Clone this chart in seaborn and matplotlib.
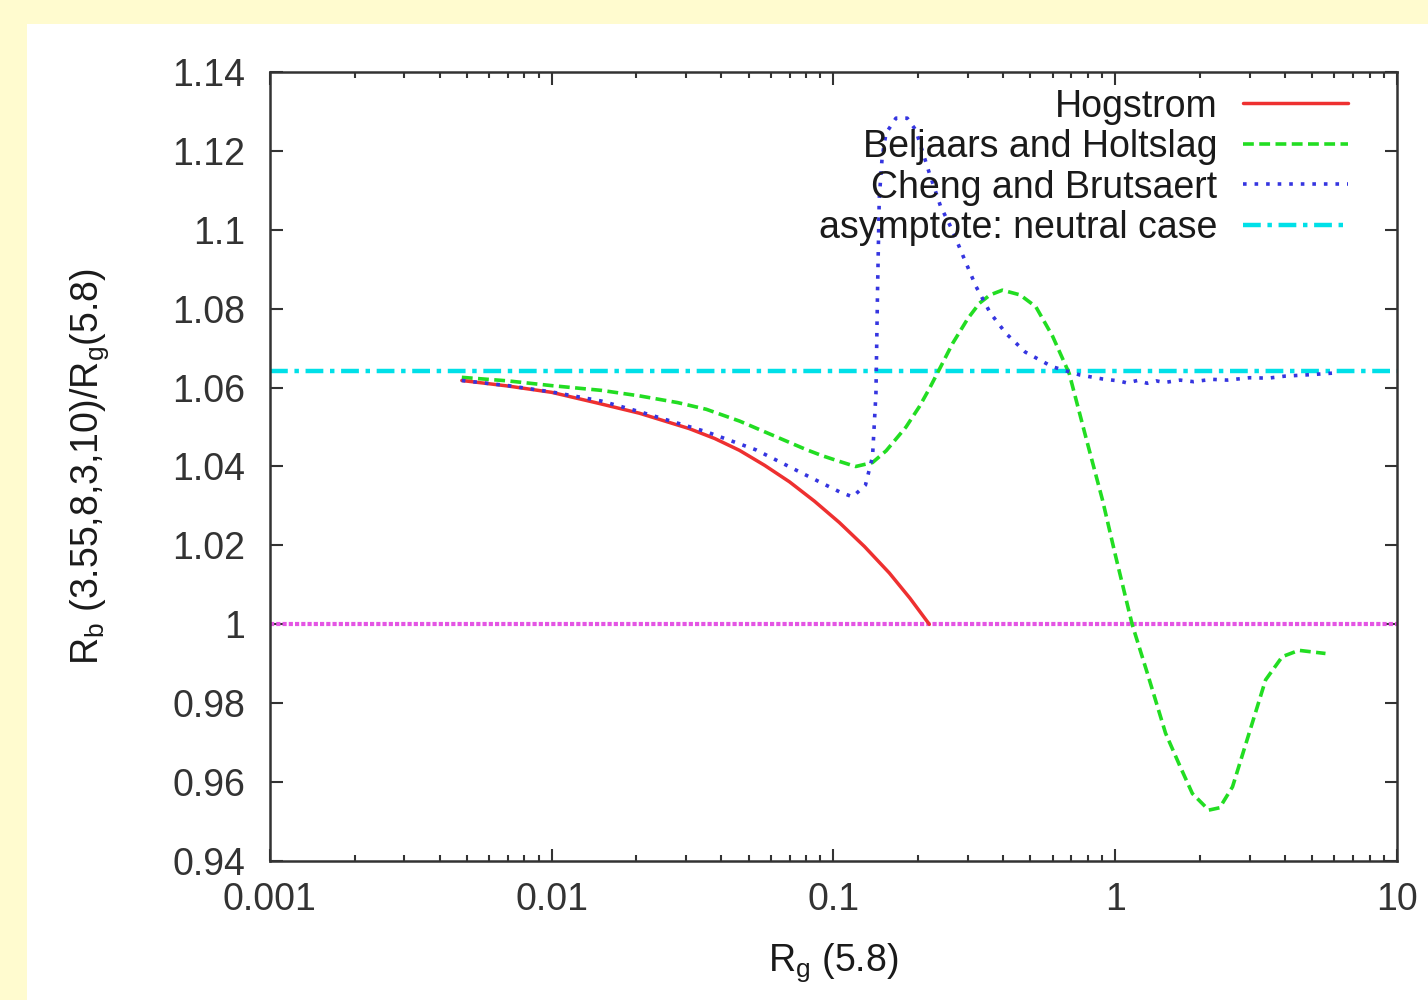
import numpy as np
import pandas as pd
import matplotlib
matplotlib.use("Agg")
import matplotlib.pyplot as plt
import seaborn as sns
from matplotlib.patches import Rectangle
from matplotlib.ticker import FixedLocator, FuncFormatter, LogLocator, NullFormatter

# ── values ──────────────────────────────────────────────────────────────────
hog_x = [0.0048, 0.007, 0.01, 0.0145, 0.0205, 0.0308, 0.0379, 0.0464, 0.057,
         0.0699, 0.0857, 0.105, 0.129, 0.158, 0.187, 0.219]
hog_y = [1.0618, 1.0604, 1.0588, 1.0561, 1.0535, 1.0496, 1.0471, 1.0441,
         1.0403, 1.0361, 1.0312, 1.0258, 1.0197, 1.013, 1.0066, 1.0]

bh_x = [0.0048, 0.007, 0.01, 0.015, 0.0205, 0.028, 0.0354, 0.0465, 0.061,
        0.08, 0.0916, 0.105, 0.12, 0.1377, 0.154, 0.181, 0.202, 0.219, 0.24,
        0.265, 0.3, 0.33, 0.36, 0.398, 0.46, 0.523, 0.6, 0.687, 0.79, 0.902,
        1.0, 1.149, 1.3, 1.51, 1.7, 1.88, 2.15, 2.35, 2.61, 2.99, 3.42, 3.92,
        4.49, 5.0, 5.58]
bh_y = [1.0626, 1.0617, 1.0605, 1.0593, 1.0579, 1.0562, 1.0545, 1.0515,
        1.0479, 1.0443, 1.0427, 1.0413, 1.04, 1.041, 1.044, 1.05, 1.0552,
        1.0597, 1.0652, 1.0712, 1.0775, 1.0814, 1.0835, 1.0847, 1.0835,
        1.0805, 1.073, 1.0636, 1.047, 1.0315, 1.0178, 1.0, 0.9877, 0.9724,
        0.964, 0.9571, 0.9529, 0.9535, 0.9588, 0.9724, 0.9859, 0.9918,
        0.9934, 0.993, 0.9926]

cb_x = [0.0048, 0.007, 0.01, 0.015, 0.0205, 0.0354, 0.0532, 0.08, 0.105,
        0.117, 0.13, 0.1377, 0.1416, 0.1435, 0.1455, 0.149, 0.1538, 0.1668,
        0.1828, 0.196, 0.219, 0.24, 0.264, 0.29, 0.321, 0.36, 0.409, 0.48,
        0.598, 0.75, 0.9, 1.03, 1.1, 1.2, 1.3, 1.4, 1.5, 1.7, 1.9, 2.2, 2.5,
        3.0, 3.5, 4.0, 5.0, 6.0]
cb_y = [1.0618, 1.0605, 1.0589, 1.0566, 1.0539, 1.0488, 1.0442, 1.0378,
        1.0336, 1.0323, 1.0353, 1.0425, 1.0585, 1.085, 1.108, 1.1185, 1.1245,
        1.1283, 1.1283, 1.1253, 1.1144, 1.106, 1.10, 1.093, 1.0856, 1.079,
        1.0738, 1.069, 1.0653, 1.0632, 1.0622, 1.0617, 1.0612, 1.0618,
        1.0611, 1.0617, 1.0613, 1.0619, 1.0615, 1.0621, 1.0619, 1.0625,
        1.0624, 1.0629, 1.0633, 1.0637]

asymptote = 1.0642
reference = 1.0

x_ticks = [0.001, 0.01, 0.1, 1, 10]
y_ticks = [0.94, 0.96, 0.98, 1.0, 1.02, 1.04, 1.06, 1.08, 1.1, 1.12, 1.14]
labels = ["Hogstrom", "Beljaars and Holtslag", "Cheng and Brutsaert",
          "asymptote: neutral case"]

# ── style ──────────────────────────────────────────────────────────────────
sns.set_theme(style="ticks")
plt.rcParams.update({
    "font.family": ["Liberation Sans", "DejaVu Sans"],
    "mathtext.default": "regular",
    "font.size": 27,
    "text.color": "#1a1a1a",
    "axes.labelcolor": "#1a1a1a",
    "xtick.color": "#333333",
    "ytick.color": "#333333",
})

fig = plt.figure(figsize=(14.28, 10), dpi=100, facecolor="#FFFBCF")
fig.add_artist(Rectangle((27 / 1428, 0), 1, 1 - 24 / 1000,
                         transform=fig.transFigure, facecolor="white",
                         edgecolor="none", zorder=0))
ax = fig.add_axes([0.189, 0.139, 0.7892, 0.789])
ax.set_facecolor("white")

ax.axhline(reference, color="#E455E4", lw=3, ls=(0, (1, 0.5)), zorder=1)

sns.lineplot(x=hog_x, y=hog_y, ax=ax, color="#EE3030", lw=2.5, sort=False,
             zorder=4)
sns.lineplot(x=bh_x, y=bh_y, ax=ax, color="#22DD22", lw=2.6, sort=False,
             ls=(0, (3, 1.5)), zorder=3)
sns.lineplot(x=cb_x, y=cb_y, ax=ax, color="#3535E0", lw=2.6, sort=False,
             ls=(0, (1, 2.2)), zorder=5)
ax.axhline(asymptote, color="#00E0E8", lw=3.2, ls=(0, (4, 1.5, 1, 1.5)),
           zorder=2)

lines = ax.get_lines()
handles = [lines[1], lines[2], lines[3], lines[4]]
ax.legend(handles, labels, loc="upper right", bbox_to_anchor=(0.957, 0.979),
          markerfirst=False, frameon=False, fontsize=27, handlelength=2.8,
          handletextpad=0.69, labelspacing=0.12, borderpad=0,
          borderaxespad=0)

ax.set_xscale("log")
ax.set_xlim(0.001, 10)
ax.set_ylim(0.94, 1.14)
ax.xaxis.set_major_locator(FixedLocator(x_ticks))
ax.xaxis.set_major_formatter(FuncFormatter(lambda v, p: f"{v:g}"))
ax.xaxis.set_minor_locator(LogLocator(base=10, subs=np.arange(2, 10)))
ax.xaxis.set_minor_formatter(NullFormatter())
ax.yaxis.set_major_locator(FixedLocator(y_ticks))
ax.yaxis.set_major_formatter(FuncFormatter(lambda v, p: f"{round(v, 2):g}"))

ax.tick_params(which="both", direction="in", top=True, right=True,
               width=1.5, labelsize=27)
ax.tick_params(which="major", length=9)
ax.tick_params(which="minor", length=4.5)
ax.tick_params(axis="x", pad=15)
ax.tick_params(axis="y", pad=18)
for sp in ax.spines.values():
    sp.set_linewidth(1.8)
    sp.set_color("#333333")

ax.set_xlabel(r"R$_g$ (5.8)", fontsize=27, labelpad=17)
ax.set_ylabel(r"R$_b$ (3.55,8,3,10)/R$_g$(5.8)", fontsize=27, labelpad=44)

fig.savefig("out.png", dpi=100, facecolor=fig.get_facecolor())
